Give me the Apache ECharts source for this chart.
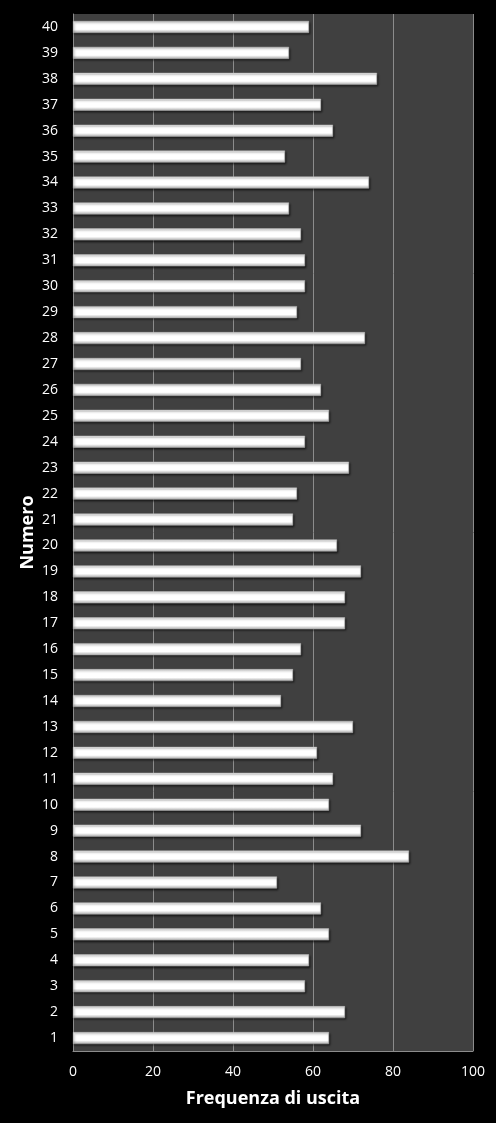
<!DOCTYPE html>
<html>
<head>
<meta charset="utf-8">
<script src="https://cdn.jsdelivr.net/npm/echarts@6/dist/echarts.min.js"></script>
<style>
html,body{margin:0;padding:0;background:#000;}
#chart{width:496px;height:1123px;}
</style>
</head>
<body>
<div id="chart"></div>
<script>
const categories = ['1','2','3','4','5','6','7','8','9','10','11','12','13','14','15','16','17','18','19','20','21','22','23','24','25','26','27','28','29','30','31','32','33','34','35','36','37','38','39','40'];
const frequencies = [64,68,58,59,64,62,51,84,72,64,65,61,70,52,55,57,68,68,72,66,55,56,69,58,64,62,57,73,56,58,58,57,54,74,53,65,62,76,54,59];
const xTicks = [0,20,40,60,80,100];
const xAxisTitle = 'Frequenza di uscita';
const yAxisTitle = 'Numero';

const chart = echarts.init(document.getElementById('chart'), null, {renderer:'canvas'});
chart.setOption({
  backgroundColor:'#000',
  animation:false,
  grid:{left:73,right:23,top:14,bottom:72,show:true,backgroundColor:'#404040',borderWidth:0},
  xAxis:{
    type:'value',min:xTicks[0],max:xTicks[xTicks.length-1],interval:20,
    name:xAxisTitle,nameLocation:'middle',nameGap:39,
    nameTextStyle:{color:'#fff',fontFamily:'Open Sans',fontWeight:'bold',fontSize:18},
    axisLine:{show:true,lineStyle:{color:'#8c8c8c',width:1}},
    axisTick:{show:false},
    axisLabel:{color:'#fff',fontFamily:'Open Sans',fontSize:14,margin:14},
    splitLine:{show:true,lineStyle:{color:'#8c8c8c',width:1}}
  },
  yAxis:{
    type:'category',data:categories,
    name:yAxisTitle,nameLocation:'middle',nameGap:36,nameRotate:90,nameMoveOverlap:false,
    nameTextStyle:{color:'#fff',fontFamily:'Open Sans',fontWeight:'bold',fontSize:18},
    axisLine:{show:true,lineStyle:{color:'#8c8c8c',width:1}},
    axisTick:{show:false},
    axisLabel:{color:'#fff',fontFamily:'Open Sans',fontSize:14,margin:15},
    splitLine:{show:false}
  },
  series:[{
    type:'bar',data:frequencies,barWidth:12,
    itemStyle:{
      color:new echarts.graphic.LinearGradient(0,0,0,1,[
        {offset:0,color:'#dcdcdc'},
        {offset:0.2,color:'#ffffff'},
        {offset:0.7,color:'#ffffff'},
        {offset:1,color:'#a8a8a8'}
      ]),
      borderColor:'#bdbdbd',borderWidth:0.5,
      shadowColor:'rgba(0,0,0,0.6)',shadowBlur:2,shadowOffsetY:1.5,shadowOffsetX:1
    }
  }]
});
</script>
</body>
</html>
